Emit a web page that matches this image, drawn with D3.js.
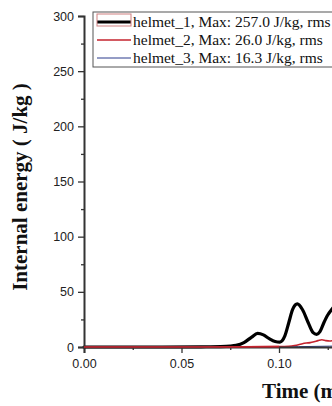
<!DOCTYPE html>
<html>
<head>
<meta charset="utf-8">
<script src="https://cdn.jsdelivr.net/npm/d3@7"></script>
<style>
html,body{margin:0;padding:0;background:#fff;overflow:hidden;}
svg{display:block;}
</style>
</head>
<body>
<svg id="chart" width="332" height="406"></svg>
<script>
// ---- data ----
const seriesNames = ["helmet_1, Max: 257.0 J/kg, rms", "helmet_2, Max: 26.0 J/kg, rms", "helmet_3, Max: 16.3 J/kg, rms"];
const h1Time = [0, 0.02, 0.04, 0.06, 0.07, 0.075, 0.078, 0.082, 0.086, 0.089, 0.092, 0.095, 0.098, 0.1005, 0.103, 0.105, 0.107, 0.1094, 0.112, 0.115, 0.1175, 0.1193, 0.121, 0.123, 0.125, 0.127, 0.129, 0.132];
const h1Val  = [0, 0, 0, 0.2, 0.4, 0.8, 1.5, 4, 9, 12.3, 11, 7.5, 5, 4.5, 10, 22, 34, 39, 34, 22, 13, 11.5, 14, 22, 29, 34, 38, 42];
const h2Time = [0, 0.02, 0.04, 0.06, 0.08, 0.1, 0.105, 0.108, 0.11, 0.112, 0.114, 0.116, 0.118, 0.12, 0.122, 0.124, 0.126, 0.128, 0.132];
const h2Val  = [0, 0, 0, 0, 0.1, 0.3, 0.7, 1.4, 2.1, 3.0, 3.6, 4.0, 4.8, 5.8, 6.6, 5.8, 5.4, 5.8, 6.2];
const h3Time = [0, 0.05, 0.1, 0.11, 0.12, 0.132];
const h3Val  = [0, 0, 0.1, 0.3, 0.6, 0.9];
const xTicks = [0, 0.05, 0.10];
const xMinor = [0.025, 0.075, 0.125];
const yTicks = [0, 50, 100, 150, 200, 250, 300];
const yMinor = [25, 75, 125, 175, 225, 275];
const colors = ["#000000", "#c4232e", "#2a3a8c"];
const widths = [3.2, 1.6, 1];

const svg = d3.select("#chart");
const x = d3.scaleLinear().domain([0, 0.2]).range([84, 474]);
const y = d3.scaleLinear().domain([0, 300]).range([347, 16]);

// series
const line = d3.line().x(d => x(d[0])).y(d => y(d[1])).curve(d3.curveMonotoneX);
const series = [d3.zip(h1Time, h1Val), d3.zip(h3Time, h3Val), d3.zip(h2Time, h2Val)];
const order = [0, 2, 1];
series.forEach((s, i) => {
  const k = order[i];
  svg.append("path").attr("d", line(s)).attr("fill", "none")
    .attr("stroke", colors[k]).attr("stroke-width", widths[k])
    .attr("stroke-linejoin", "round").attr("stroke-linecap", "round");
});

// axes
const axisColor = "#333";
const yAxis = svg.append("g").attr("transform", "translate(84,0)")
  .call(d3.axisLeft(y).tickValues(yTicks).tickSize(6).tickPadding(4).tickFormat(d3.format("d")));
const yAxisMinor = svg.append("g").attr("transform", "translate(84,0)")
  .call(d3.axisLeft(y).tickValues(yMinor).tickSize(3).tickFormat(""));
const xAxis = svg.append("g").attr("transform", "translate(0,347)")
  .call(d3.axisBottom(x).tickValues(xTicks).tickSize(6).tickPadding(6).tickFormat(d3.format(".2f")));
const xAxisMinor = svg.append("g").attr("transform", "translate(0,347)")
  .call(d3.axisBottom(x).tickValues(xMinor).tickSize(3).tickFormat(""));
[yAxis, yAxisMinor, xAxis, xAxisMinor].forEach(g => {
  g.select(".domain").attr("stroke", axisColor).attr("stroke-width", 2);
  g.selectAll(".tick line").attr("stroke", axisColor).attr("stroke-width", 1.3);
  g.selectAll(".tick text").attr("fill", "#222")
    .style("font-family", "'Liberation Sans', Arial, sans-serif").style("font-size", "12.5px");
});
yAxisMinor.select(".domain").remove();
xAxisMinor.select(".domain").remove();
// red series baseline drawn over the axis like the reference
svg.append("path").attr("d", line(d3.zip(h2Time, h2Val).slice(0, 6))).attr("fill", "none")
  .attr("stroke", colors[1]).attr("stroke-width", 1.6);

// axis titles
svg.append("text").attr("transform", "translate(27,187) rotate(-90)")
  .attr("text-anchor", "middle")
  .style("font-family", "'Liberation Serif', 'Times New Roman', serif")
  .style("font-weight", "bold").style("font-size", "21px").attr("fill", "#111")
  .text("Internal energy ( J/kg )");
svg.append("text").attr("x", 262).attr("y", 398)
  .style("font-family", "'Liberation Serif', 'Times New Roman', serif")
  .style("font-weight", "bold").style("font-size", "21px").attr("fill", "#111")
  .text("Time (ms)");

// legend
const lg = svg.append("g");
lg.append("rect").attr("x", 93).attr("y", 12).attr("width", 300).attr("height", 55)
  .attr("fill", "#fff").attr("stroke", "#555").attr("stroke-width", 1);
const rowY = [22, 40, 58];
seriesNames.forEach((name, i) => {
  lg.append("line").attr("x1", 97).attr("x2", 131).attr("y1", rowY[i]).attr("y2", rowY[i])
    .attr("stroke", colors[i]).attr("stroke-width", widths[i]);
  lg.append("text").attr("x", 133).attr("y", rowY[i] + 5)
    .style("font-family", "'Liberation Serif', 'Times New Roman', serif")
    .style("font-size", "15.5px").attr("fill", "#111").text(name);
});
lg.append("rect").attr("x", 97).attr("y", 14).attr("width", 34).attr("height", 12)
  .attr("fill", "none").attr("stroke", "#d08080").attr("stroke-width", 1);
</script>
</body>
</html>
